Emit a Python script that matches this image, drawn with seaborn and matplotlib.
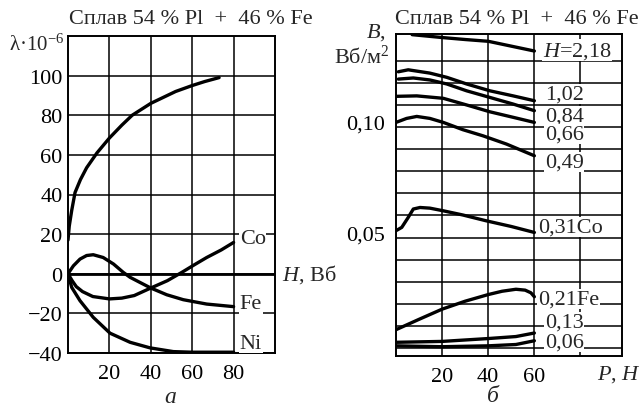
import numpy as np
import pandas as pd
import matplotlib
matplotlib.use("Agg")
import matplotlib.pyplot as plt
import matplotlib.transforms as mtrans
import seaborn as sns

# ── panel а: magnetostriction λ·10^-6 vs field H ─────────────────────────────
alloy_h   = [0, 0.6, 1.8, 3.4, 6, 9, 14, 20, 26, 31, 40, 46, 52, 60, 66, 73]
alloy_lam = [17, 24, 32, 41, 47.5, 53.5, 61, 68.5, 75, 80, 86, 89, 92, 95, 97, 99]

co_h   = [0, 2, 4, 7, 12, 20, 26, 32, 40, 48, 55, 61, 67, 74, 80]
co_lam = [0, -3.5, -6.5, -9, -11.5, -12.7, -12.3, -11, -7.2, -3.5, 0.7, 4.5, 8.2, 12, 15.8]

fe_h   = [0, 2.6, 5.8, 9, 12.2, 17, 22, 26.7, 30, 34.8, 40, 47.7, 55.7, 67, 80]
fe_lam = [0, 4, 7.4, 9.2, 9.6, 8.2, 4.9, 0.7, -1.8, -4.4, -7.2, -10.6, -13.1, -15.3, -16.6]

ni_h   = [0, 1.8, 5.8, 12.2, 20.3, 30, 39.6, 50.9, 60, 70, 80]
ni_lam = [0, -6.9, -13.6, -22, -30, -34.6, -37.4, -39.3, -39.6, -39.6, -39.6]

# ── panel б: induction B vs tension P for several fields H ───────────────────
p_218 = [7, 20, 30, 40, 50, 60]
b_218 = [0.1418, 0.1405, 0.1396, 0.1388, 0.1366, 0.1344]

p_102 = [1, 5.3, 14.7, 22, 30.6, 40.7, 50.8, 60]
b_102 = [0.1250, 0.1259, 0.1244, 0.1225, 0.1195, 0.1164, 0.1141, 0.1119]

p_084 = [1, 7.5, 14.7, 22, 30.6, 40.7, 50.8, 60]
b_084 = [0.1217, 0.1222, 0.1213, 0.1195, 0.1164, 0.1134, 0.1104, 0.1074]

p_066 = [0.3, 9, 20.5, 30.6, 40.7, 50.8, 60]
b_066 = [0.1139, 0.1141, 0.1130, 0.1100, 0.1069, 0.1044, 0.1021]

p_049 = [0, 4.6, 9, 14.7, 20.5, 29, 37.8, 47.9, 60]
b_049 = [0.1021, 0.1039, 0.1048, 0.1039, 0.1021, 0.0988, 0.0960, 0.0923, 0.0870]

p_031 = [0, 2.5, 5.3, 7.5, 10.4, 14.7, 20.5, 29, 39, 50, 60]
b_031 = [0.0531, 0.0546, 0.0591, 0.0629, 0.0636, 0.0633, 0.0621, 0.0602, 0.0576, 0.0550, 0.0523]

p_021 = [0, 10, 20, 30, 40, 46, 52, 56, 58.5, 60]
b_021 = [0.0083, 0.0130, 0.0176, 0.0212, 0.0242, 0.0257, 0.0266, 0.0262, 0.0250, 0.0232]

p_013 = [0, 20, 40, 52, 60]
b_013 = [0.0026, 0.0030, 0.0043, 0.0052, 0.0068]

p_006 = [0, 20, 40, 52, 60]
b_006 = [0.0010, 0.0006, 0.0010, 0.0016, 0.0033]

TITLE = "Сплав 54 % Pl  +  46 % Fe"
FS = 16
LW = 2.4
GRID_LW = 1.1

sns.set_theme(style="white")
plt.rcParams["font.family"] = ["Liberation Serif", "DejaVu Serif"]
plt.rcParams["mathtext.fontset"] = "custom"
plt.rcParams["mathtext.rm"] = "Liberation Serif"
plt.rcParams["mathtext.it"] = "Liberation Serif:italic"


def frame(ax):
    ax.set_facecolor("white")
    for sp in ax.spines.values():
        sp.set_visible(True)
        sp.set_color("black")
        sp.set_linewidth(1.4)
    ax.tick_params(length=0, labelsize=FS, colors="black")
    ax.set_xlabel("")
    ax.set_ylabel("")


def curve(ax, xs, ys):
    df = pd.DataFrame({"x": xs, "y": ys})
    sns.lineplot(data=df, x="x", y="y", ax=ax, color="black", linewidth=LW,
                 estimator=None, sort=False, legend=False)


fig = plt.figure(figsize=(6.44, 4.10), dpi=100, facecolor="white")

# ── а ────────────────────────────────────────────────────────────────────────
ax_a = fig.add_axes([68 / 644, 1 - 354 / 410, 207 / 644, 317 / 410])
for xs, ys in [(alloy_h, alloy_lam), (co_h, co_lam), (fe_h, fe_lam), (ni_h, ni_lam)]:
    curve(ax_a, xs, ys)
frame(ax_a)
ax_a.set_xlim(0, 100)
ax_a.set_ylim(-40, 120)
ax_a.set_xticks([20, 40, 60, 80])
ax_a.set_xticklabels(["20", "40", "60", "80"])
ax_a.set_yticks(np.arange(-40, 101, 20))
ax_a.set_yticklabels(["\u221240", "\u221220", "0", "20", "40", "60", "80", "100"])
ax_a.tick_params(axis="x", pad=8)
ax_a.tick_params(axis="y", pad=4)
ax_a.grid(True, color="black", linewidth=GRID_LW)
ax_a.set_axisbelow(True)
ax_a.axhline(0, color="black", linewidth=2.0, zorder=1.5)

box = dict(facecolor="white", edgecolor="none", pad=0.5)
for name, yv in [("Co", 17.6), ("Fe", -15), ("Ni", -35)]:
    ax_a.text(83, yv, name, fontsize=FS, ha="left", va="center", bbox=box)
ax_a.text(1.035, 0, "$H$, Вб", transform=ax_a.get_yaxis_transform(),
          fontsize=FS, ha="left", va="center")
ax_a.text(-0.02, 116, "λ·10$^{-6}$", transform=ax_a.get_yaxis_transform(),
          fontsize=FS - 1, ha="right", va="center")

# ── б ────────────────────────────────────────────────────────────────────────
ax_b = fig.add_axes([396 / 644, 1 - 357 / 410, 226 / 644, 322 / 410])
series_b = [(p_218, b_218), (p_102, b_102), (p_084, b_084), (p_066, b_066),
            (p_049, b_049), (p_031, b_031), (p_021, b_021), (p_013, b_013),
            (p_006, b_006)]
for xs, ys in series_b:
    curve(ax_b, xs, ys)
frame(ax_b)
ax_b.set_xlim(0, 98)
ax_b.set_ylim(-0.0036, 0.1421)
ax_b.set_xticks([20, 40, 60, 80])
ax_b.set_xticklabels(["20", "40", "60", ""])
ax_b.set_yticks([0.05, 0.10])
ax_b.set_yticklabels(["0,05", "0,10"])
ax_b.set_yticks(np.arange(0, 0.1301, 0.01), minor=True)
ax_b.tick_params(axis="x", pad=8)
ax_b.tick_params(axis="y", pad=8)
ax_b.tick_params(which="minor", length=0)
ax_b.grid(True, which="both", color="black", linewidth=GRID_LW)
ax_b.set_axisbelow(True)
shift = mtrans.ScaledTranslation(0, 5 / 100, fig.dpi_scale_trans)
for lab in ax_b.get_yticklabels():
    lab.set_transform(lab.get_transform() + shift)

labels_b = [("$H$=2,18", 63.6, 0.1348), ("1,02", 64.5, 0.1149),
            ("0,84", 64.5, 0.1050), ("0,66", 64.5, 0.0968),
            ("0,49", 64.5, 0.0842), ("0,31Co", 61.5, 0.0548),
            ("0,21Fe", 61.5, 0.0222), ("0,13", 64.5, 0.0118),
            ("0,06", 64.5, 0.0027)]
for txt, xv, yv in labels_b:
    ax_b.text(xv, yv, txt, fontsize=FS, ha="left", va="center", bbox=box)

fig.text(386 / 644, 1 - 33 / 410, "$B$,", fontsize=FS, ha="right", va="center")
fig.text(389 / 644, 1 - 57 / 410, "Вб/м$^2$", fontsize=FS, ha="right", va="center")
fig.text(641 / 644, 1 - 375 / 410, "$P$, $H$", fontsize=FS, ha="right", va="center")

# titles and panel letters
fig.text(191 / 644, 1 - 19 / 410, TITLE, fontsize=FS, ha="center", va="center")
fig.text(517 / 644, 1 - 19 / 410, TITLE, fontsize=FS, ha="center", va="center")
fig.text(170 / 644, 1 - 398 / 410, "а", fontsize=FS + 1, style="italic",
         ha="center", va="center")
fig.text(493 / 644, 1 - 397 / 410, "б", fontsize=FS + 1, style="italic",
         ha="center", va="center")

fig.savefig("out.png", dpi=100, facecolor="white")
